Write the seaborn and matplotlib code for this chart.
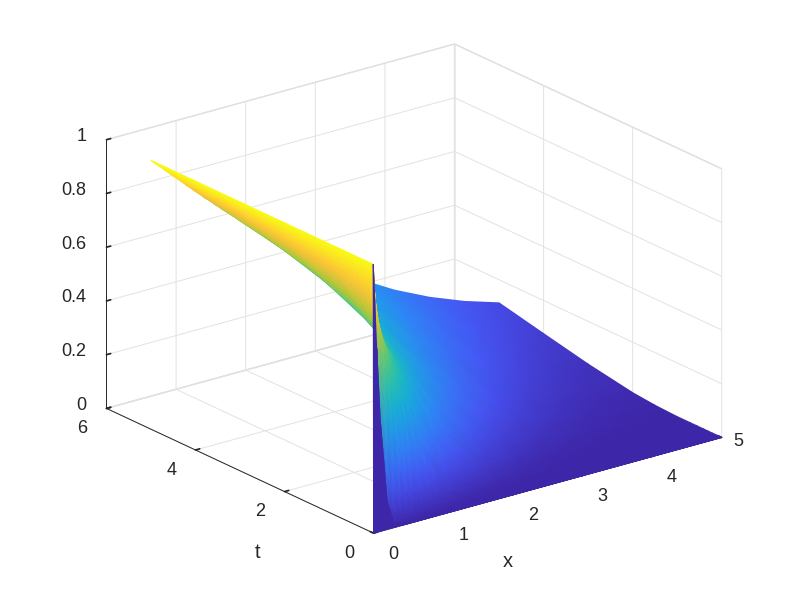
import numpy as np
import matplotlib
matplotlib.use("Agg")
import matplotlib.pyplot as plt
from mpl_toolkits.mplot3d import proj3d
import seaborn as sns

x_vals = [0, 0.02, 0.05, 0.1, 0.2, 0.3, 0.4, 0.5, 0.6, 0.75, 0.9, 1, 1.25, 1.5, 2, 2.5, 3, 3.5, 4, 4.5, 5]
# 0.0075 twice: the first cells of the surface keep the flat colour of the t=0 row
t_vals = [0, 0.0075, 0.0075, 0.012, 0.02, 0.03, 0.05, 0.07, 0.1, 0.14, 0.2, 0.3, 0.4, 0.55, 0.7, 1, 1.5, 2, 3, 4, 5]

# one row per t
u_t00 = [0, 0, 0, 0, 0, 0, 0, 0, 0, 0, 0, 0, 0, 0, 0, 0, 0, 0, 0, 0, 0]
u_t01 = [1, .870, .683, .414, .102, .014, .001, 0, 0, 0, 0, 0, 0, 0, 0, 0, 0, 0, 0, 0, 0]
u_t02 = [1, .897, .747, .518, .197, .053, .010, .001, 0, 0, 0, 0, 0, 0, 0, 0, 0, 0, 0, 0, 0]
u_t03 = [1, .920, .802, .617, .317, .134, .045, .012, .003, 0, 0, 0, 0, 0, 0, 0, 0, 0, 0, 0, 0]
u_t04 = [1, .935, .838, .683, .414, .221, .103, .041, .014, .002, 0, 0, 0, 0, 0, 0, 0, 0, 0, 0, 0]
u_t05 = [1, .950, .874, .752, .527, .343, .206, .114, .058, .018, .005, .002, 0, 0, 0, 0, 0, 0, 0, 0, 0]
u_t06 = [1, .957, .893, .790, .594, .423, .285, .181, .109, .045, .016, .008, .001, 0, 0, 0, 0, 0, 0, 0, 0]
u_t07 = [1, .964, .911, .823, .655, .503, .371, .264, .180, .094, .044, .025, .005, .001, 0, 0, 0, 0, 0, 0, 0]
u_t08 = [1, .970, .924, .850, .706, .571, .449, .345, .257, .156, .089, .059, .018, .005, 0, 0, 0, 0, 0, 0, 0]
u_t09 = [1, .975, .937, .874, .752, .636, .528, .429, .343, .235, .155, .114, .048, .018, .002, 0, 0, 0, 0, 0, 0]
u_t10 = [1, .980, .948, .898, .796, .699, .606, .518, .439, .333, .245, .197, .106, .053, .010, .001, 0, 0, 0, 0, 0]
u_t11 = [1, .982, .955, .911, .823, .737, .655, .576, .503, .402, .316, .264, .162, .094, .025, .005, .001, 0, 0, 0, 0]
u_t12 = [1, .985, .962, .924, .849, .775, .703, .634, .567, .474, .391, .341, .233, .153, .056, .017, .004, .001, 0, 0, 0]
u_t13 = [1, .987, .966, .932, .865, .800, .735, .672, .612, .526, .447, .398, .291, .205, .091, .035, .011, .003, .001, 0, 0]
u_t14 = [1, .989, .972, .944, .888, .832, .777, .724, .671, .596, .525, .480, .377, .289, .157, .077, .034, .013, .005, .001, 0]
u_t15 = [1, .991, .977, .954, .908, .863, .818, .773, .729, .665, .604, .564, .471, .386, .248, .149, .083, .043, .021, .009, .004]
u_t16 = [1, .992, .980, .960, .920, .881, .842, .802, .764, .708, .653, .617, .532, .453, .317, .211, .134, .080, .046, .025, .012]
u_t17 = [1, .993, .984, .967, .935, .902, .871, .838, .807, .759, .713, .683, .610, .540, .414, .307, .221, .153, .103, .066, .041]
u_t18 = [1, .994, .986, .972, .944, .916, .888, .860, .832, .791, .750, .724, .659, .596, .480, .377, .289, .216, .157, .112, .077]
u_t19 = [1, .995, .987, .975, .950, .924, .900, .874, .849, .812, .776, .752, .692, .636, .527, .429, .343, .268, .206, .155, .114]

x_ticks = [0, 1, 2, 3, 4, 5]
t_ticks = [0, 2, 4, 6]
z_ticks = [0, 0.2, 0.4, 0.6, 0.8, 1]
z_labels = ["0", "0.2", "0.4", "0.6", "0.8", "1"]

sns.set_theme(style="white")
plt.rcParams["font.family"] = ["Liberation Sans", "DejaVu Sans"]

parula = sns.blend_palette(["#3e26a8", "#4852f4", "#2e87f7", "#12b1d6",
                            "#37c897", "#abc739", "#fec338", "#f9fb15"],
                           as_cmap=True)

u = np.array([u_t00, u_t01, u_t01, u_t02, u_t03, u_t04, u_t05, u_t06, u_t07, u_t08, u_t09,
              u_t10, u_t11, u_t12, u_t13, u_t14, u_t15, u_t16, u_t17, u_t18, u_t19])
colour = u.copy()
colour[1] = u_t00
X, T = np.meshgrid(x_vals, t_vals)

fig = plt.figure(figsize=(8, 6), dpi=100)
# axes3d forces a square box, so make it larger than the figure to avoid clipping
ax = fig.add_axes([-0.1243, -0.337, 1.25, 1.667], projection="3d", proj_type="ortho")
ax.view_init(elev=21, azim=-127.5)
ax.set_box_aspect((1, 1, 0.656), zoom=0.664)

ax.set_xlim(0, 5)
ax.set_ylim(0, 6)
ax.set_zlim(0, 1)
ax.set_xticks(x_ticks)
ax.set_yticks(t_ticks)
ax.set_zticks(z_ticks)
ax.set_xticklabels([])
ax.set_yticklabels([])
ax.set_zticklabels([])

for axis in (ax.xaxis, ax.yaxis, ax.zaxis):
    axis.set_pane_color((1, 1, 1, 1))
    axis.pane.set_edgecolor("#dcdcdc")
    axis.line.set_color("#262626")
    axis.line.set_linewidth(0.7)
    axis._axinfo["grid"]["color"] = "#e2e2e2"
    axis._axinfo["grid"]["linewidth"] = 0.7
    axis._axinfo["tick"]["inward_factor"] = 0.0
    axis._axinfo["tick"]["outward_factor"] = 0.15
ax.tick_params(colors="#262626")
ax.zaxis.set_ticks_position("upper")

fig.canvas.draw()


def to_screen(xs, ts, zs):
    px, py, _ = proj3d.proj_transform(np.ravel(xs), np.ravel(ts), np.ravel(zs), ax.get_proj())
    return ax.transData.transform(np.column_stack([px, py]))


# mplot3d has no interpolated shading: project the table and draw it gouraud on a 2D overlay
screen = to_screen(X, T, u)
sx = screen[:, 0].reshape(X.shape)
sy = screen[:, 1].reshape(X.shape)

over = fig.add_axes([0, 0, 1, 1])
over.set_xlim(0, 800)
over.set_ylim(0, 600)
over.axis("off")
# far corner first so nearer cells paint over it
over.pcolormesh(sx[::-1, ::-1], sy[::-1, ::-1], colour[::-1, ::-1], shading="gouraud",
                cmap=parula, vmin=0, vmax=1)


def label_at(text, pos, off, ha="center", size=13):
    over.annotate(text, xy=pos, xytext=off, textcoords="offset pixels", ha=ha, va="center",
                  fontsize=size, color="#262626")


# tick labels sit where matlab put them, mplot3d can't do per-axis offsets like this
for v, pos in zip(x_ticks, to_screen(x_ticks, [0] * 6, [0] * 6)):
    label_at(str(v), pos, (17, -4) if v == 5 else (20, -21))
for v, pos in zip(t_ticks, to_screen([0] * 4, t_ticks, [0] * 4)):
    label_at(str(v), pos, (-24, -20))
for lab, pos in zip(z_labels, to_screen([0] * 6, [6] * 6, z_ticks)):
    label_at(lab, pos, (-20, 3), ha="right")

label_at("x", to_screen([2.5], [0], [0])[0], (-40, -76), size=14.5)
label_at("t", to_screen([0], [3], [0])[0], (18, -82), size=14.5)

fig.savefig("out.png", dpi=100)
